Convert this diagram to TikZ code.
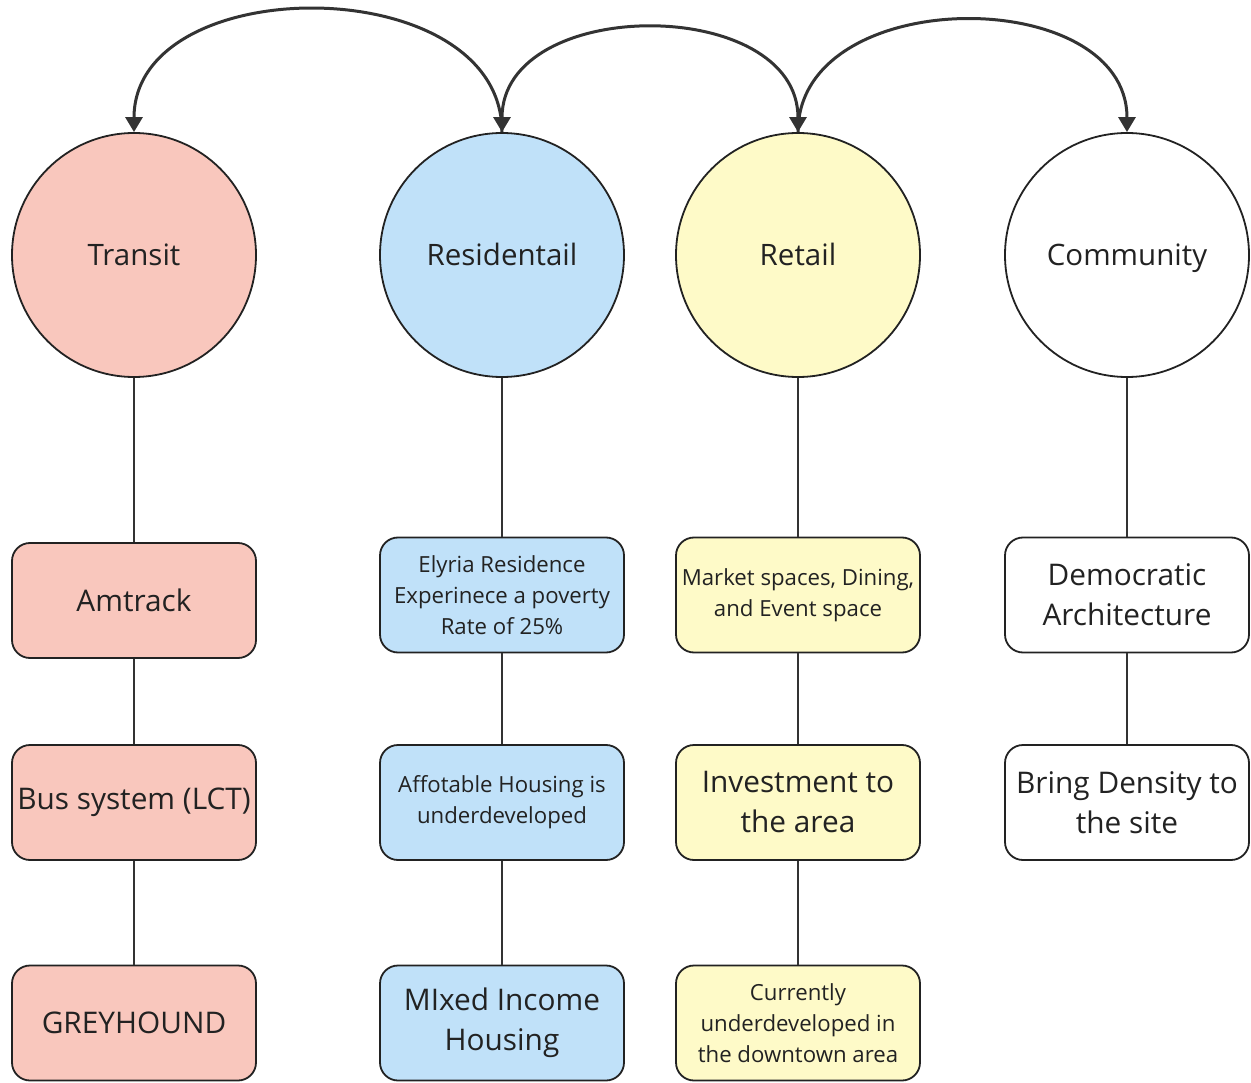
\documentclass[tikz,border=0pt]{standalone}
\usepackage{fontspec}
\setmainfont{Open Sans}
\usetikzlibrary{arrows.meta}
\definecolor{pinkf}{HTML}{F9C7BD}
\definecolor{bluef}{HTML}{C0E1F9}
\definecolor{yellowf}{HTML}{FEFAC8}
\definecolor{edgec}{HTML}{222222}
\definecolor{linec}{HTML}{333333}
\definecolor{txtc}{HTML}{222222}
\tikzset{
  hub/.style={circle, draw=edgec, line width=1.8pt, minimum size=244pt, inner sep=0pt, text=txtc, font=\fontsize{29.5}{40}\selectfont, text height=21pt, text depth=0pt},
  card/.style={rectangle, rounded corners=18pt, draw=edgec, line width=1.8pt, minimum width=244pt, minimum height=115pt, inner sep=2pt, align=center, text=txtc},
  big/.style={font=\fontsize{29.8}{40}\selectfont},
  small/.style={font=\fontsize{22.2}{31}\selectfont},
  link/.style={draw=linec, line width=1.3pt},
  curve/.style={draw=linec, line width=3pt, -{Triangle[length=15pt,width=17pt]}},
  curveb/.style={draw=linec, line width=3pt, {Triangle[length=15pt,width=17pt]}-{Triangle[length=15pt,width=17pt]}}
}
\begin{document}
\begin{tikzpicture}[x=1pt,y=-1pt]
\useasboundingbox (0,0) rectangle (1251,1083);
% hubs
\node[hub, fill=pinkf] (transit) at (134,255) {Transit};
\node[hub, fill=bluef] (resid) at (502,255) {Residentail};
\node[hub, fill=yellowf] (retail) at (798,255) {Retail};
\node[hub, fill=white] (comm) at (1127,255) {Community};
% transit column
\node[card, big, fill=pinkf] (amtrack) at (134,600.5) {Amtrack};
\node[card, big, fill=pinkf] (bus) at (134,802.5) {Bus system (LCT)};
\node[card, big, fill=pinkf] (grey) at (134,1023) {GREYHOUND};
% residential column
\node[card, small, fill=bluef] (elyria) at (502,595) {Elyria Residence\\Experinece a poverty\\Rate of 25\%};
\node[card, small, fill=bluef] (afford) at (502,802.5) {Affotable Housing is\\underdeveloped};
\node[card, big, fill=bluef] (mixed) at (502,1023) {MIxed Income\\Housing};
% retail column
\node[card, small, fill=yellowf] (market) at (798,595) {Market spaces, Dining,\\and Event space};
\node[card, big, fill=yellowf] (invest) at (798,802.5) {Investment to\\the area};
\node[card, small, fill=yellowf] (current) at (798,1023) {Currently\\underdeveloped in\\the downtown area};
% community column
\node[card, big, fill=white] (demo) at (1127,595) {Democratic\\Architecture};
\node[card, big, fill=white] (density) at (1127,802.5) {Bring Density to\\the site};
% vertical links
\draw[link] (transit.south) -- (amtrack.north);
\draw[link] (amtrack.south) -- (bus.north);
\draw[link] (bus.south) -- (grey.north);
\draw[link] (resid.south) -- (elyria.north);
\draw[link] (elyria.south) -- (afford.north);
\draw[link] (afford.south) -- (mixed.north);
\draw[link] (retail.south) -- (market.north);
\draw[link] (market.south) -- (invest.north);
\draw[link] (invest.south) -- (current.north);
\draw[link] (comm.south) -- (demo.north);
\draw[link] (demo.south) -- (density.north);
% top curves
\draw[curve] (resid.north) .. controls +(0,-163) and +(0,-163) .. (transit.north);
\draw[curveb] (resid.north) .. controls +(0,-137) and +(0,-137) .. (retail.north);
\draw[curve] (retail.north) .. controls +(0,-149) and +(0,-149) .. (comm.north);
\end{tikzpicture}
\end{document}
